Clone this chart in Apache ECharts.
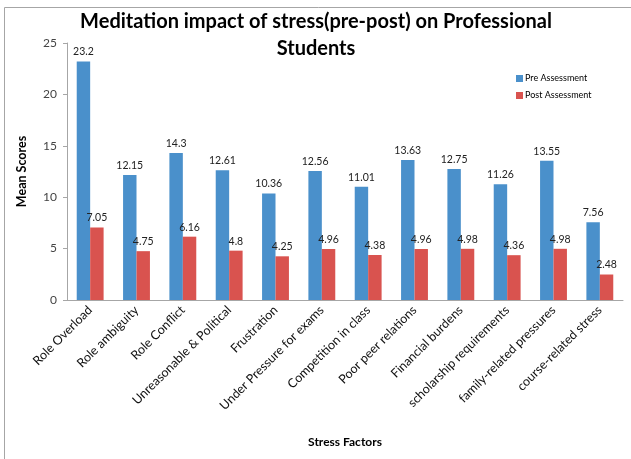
<!DOCTYPE html>
<html>
<head>
<meta charset="utf-8">
<script src="https://cdn.jsdelivr.net/npm/echarts@6/dist/echarts.min.js"></script>
<style>html,body{margin:0;padding:0;background:#fff}#c{width:631px;height:459px}</style>
</head>
<body>
<div id="c"></div>
<script>
const categories = ["Role Overload","Role ambiguity","Role Conflict","Unreasonable & Political","Frustration","Under Pressure for exams","Competition in class","Poor peer relations","Financial burdens","scholarship requirements","family-related pressures","course-related stress"];
const preValues = [23.2,12.15,14.3,12.61,10.36,12.56,11.01,13.63,12.75,11.26,13.55,7.56];
const postValues = [7.05,4.75,6.16,4.8,4.25,4.96,4.38,4.96,4.98,4.36,4.98,2.48];
const yTicks = [0,5,10,15,20,25];

const chart = echarts.init(document.getElementById('c'));
const font = 'Lato';
chart.setOption({
  backgroundColor: '#fff',
  animation: false,
  graphic: [{type:'rect', shape:{x:4.5,y:7.5,width:700,height:600}, style:{fill:'none', stroke:'#a6a6a6', lineWidth:1}}],
  title: {
    text: 'Meditation impact of stress(pre-post) on Professional\nStudents',
    left: 311, top: 3, textAlign: 'center',
    textStyle: {fontFamily: font, fontWeight: 'bold', fontSize: 20, color: '#000', lineHeight: 27}
  },
  legend: {
    orient: 'vertical', left: 511, top: 69, itemWidth: 7, itemHeight: 7, itemGap: 8,
    icon: 'rect',
    textStyle: {fontFamily: font, fontSize: 9, color: '#000', padding:[0,0,0,-3]},
    data: ['Pre Assessment','Post Assessment']
  },
  grid: {left: 67, right: 8, top: 43, bottom: 159},
  xAxis: {
    type: 'category', data: categories,
    name: 'Stress Factors', nameLocation: 'middle', nameGap: 136,
    nameTextStyle: {fontFamily: font, fontWeight: 'bold', fontSize: 12, color: '#000'},
    axisLine: {lineStyle: {color: '#a6a6a6'}},
    axisTick: {show: false},
    axisLabel: {rotate: 45, interval: 0, fontFamily: font, fontSize: 12.5, color: '#111', margin: 8}
  },
  yAxis: {
    type: 'value', min: 0, max: 25, interval: 5,
    name: 'Mean Scores', nameLocation: 'middle', nameGap: 39,
    nameTextStyle: {fontFamily: font, fontWeight: 'bold', fontSize: 12.5, color: '#000'},
    axisLine: {show: true, lineStyle: {color: '#a6a6a6'}},
    axisTick: {show: true, length: 4, lineStyle: {color: '#a6a6a6'}},
    splitLine: {show: false},
    axisLabel: {fontFamily: font, fontSize: 12, color: '#444', margin: 10,
      formatter: v => yTicks.includes(v) ? String(v) : ''}
  },
  series: [
    {name: 'Pre Assessment', type: 'bar', data: preValues, barGap: '0%', barCategoryGap: '42%',
     itemStyle: {color: '#4a90cb'},
     label: {show: true, position: 'top', distance: 4, fontFamily: font, fontSize: 10.5, color: '#222'}},
    {name: 'Post Assessment', type: 'bar', data: postValues,
     itemStyle: {color: '#d9534f'},
     label: {show: true, position: 'top', distance: 4, fontFamily: font, fontSize: 10.5, color: '#222'}}
  ]
});
</script>
</body>
</html>
